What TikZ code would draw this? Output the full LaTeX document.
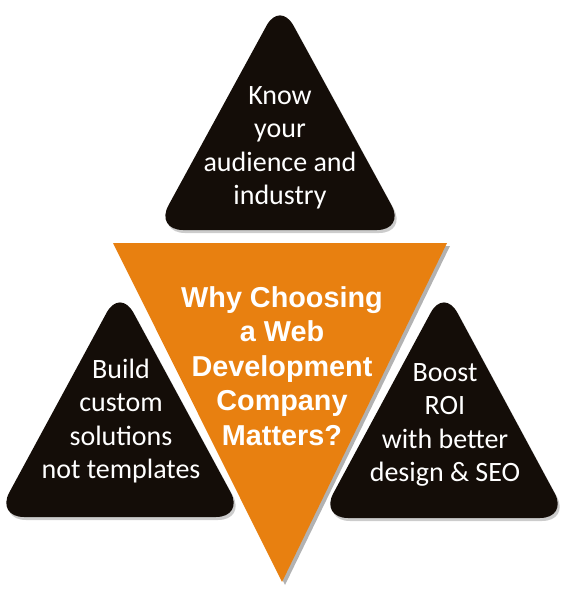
\documentclass[tikz,border=0pt]{standalone}
\usepackage{fontspec}
\setmainfont{Carlito}
\newfontfamily\headfont{Liberation Sans}
\definecolor{webOrange}{RGB}{232,128,16}
\definecolor{webBlack}{RGB}{20,13,8}
\begin{document}
\begin{tikzpicture}[x=1pt,y=-1pt,
  tri/.style={fill=webBlack, rounded corners=28pt},
  triShade/.style={fill=black!20, rounded corners=28pt, xshift=2pt, yshift=-3pt},
  tritext/.style={text=white, align=center, font=\fontsize{28}{33.5}\selectfont},
  headtext/.style={text=white, align=center, font=\headfont\bfseries\fontsize{28.8}{34.5}\selectfont}]
\useasboundingbox (0,0) rectangle (564,599);

\fill[triShade] (280,1) -- (405,230) -- (155,230) -- cycle;
\fill[triShade] (120,288) -- (244,517) -- (-4,517) -- cycle;
\fill[triShade] (444,288) -- (568,518) -- (320,518) -- cycle;
\fill[fill=black!30] (116,246) -- (450,246) -- (285,585) -- cycle;

\fill[tri] (280,1) -- (405,230) -- (155,230) -- cycle;
\fill[tri] (120,288) -- (244,517) -- (-4,517) -- cycle;
\fill[tri] (444,288) -- (568,518) -- (320,518) -- cycle;
\fill[fill=webOrange] (113,243) -- (447,243) -- (282,582) -- cycle;

\node[tritext] (know) at (280,148) {Know\\your\\audience and\\industry};
\node[tritext] (build) at (121,421) {Build\\custom\\solutions\\not templates};
\node[tritext] (boost) at (445,425) {Boost\\ROI\\with better\\design \& SEO};
\node[headtext] (why) at (282,366) {Why Choosing\\a Web\\Development\\Company\\Matters?};
\end{tikzpicture}
\end{document}
